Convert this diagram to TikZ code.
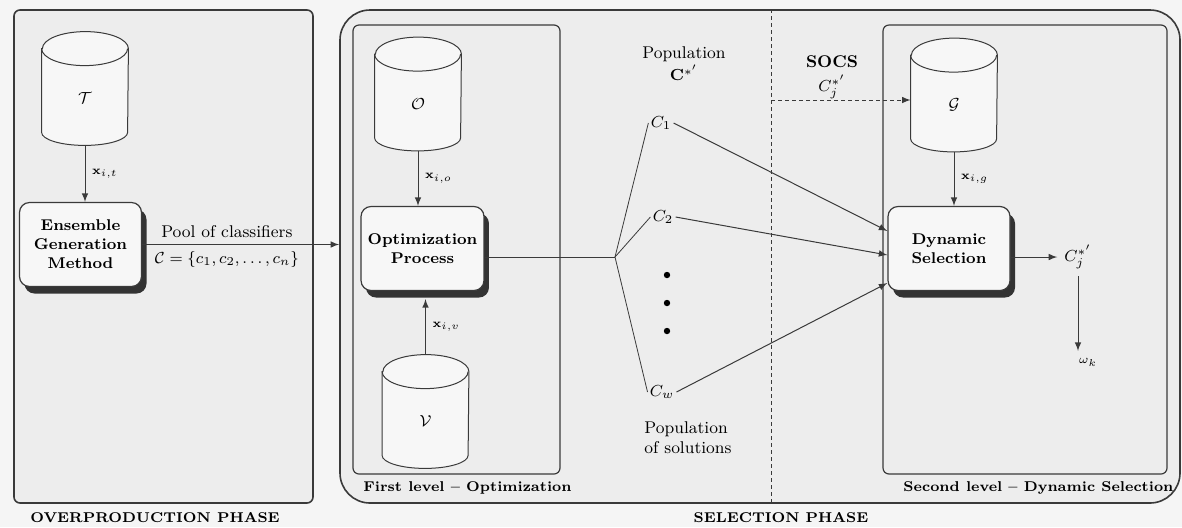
\documentclass[tikz,border=0pt]{standalone}
\usepackage{xcolor}
\usepackage{tikz}
\usetikzlibrary{positioning,shadows}

\definecolor{linegray}{HTML}{3A3A3A}
\definecolor{panelfill}{HTML}{EDEDED}
\definecolor{pagefill}{HTML}{F5F5F5}

\tikzset{
  phasebox/.style={draw=linegray, line width=0.8pt, fill=panelfill, rounded corners=3pt},
  levelbox/.style={draw=linegray, line width=0.6pt, rounded corners=3pt},
  dbnode/.style={minimum width=43pt, minimum height=56.5pt, inner sep=0pt},
  dbline/.style={draw=linegray, line width=0.5pt, fill=white!55!panelfill},
  procbox/.style={draw=linegray, line width=0.6pt, fill=white!55!panelfill, rounded corners=5pt,
    align=center, font=\fontsize{7.8}{9.5}\selectfont\bfseries, minimum width=61pt, minimum height=42pt,
    drop shadow={shadow xshift=2.5pt, shadow yshift=-3.5pt, fill=black!80, opacity=1}},
  flow/.style={->, draw=linegray, line width=0.5pt},
  dashline/.style={draw=linegray, line width=0.5pt, dash pattern=on 2pt off 1.5pt},
  xlab/.style={font=\fontsize{6.5}{8}\selectfont},
  phaselbl/.style={font=\fontsize{7.1}{9}\selectfont\bfseries}
}

% data set drawn as a cylinder: name, position, label
\newcommand{\dataset}[3]{%
  \node (#1) [dbnode] at (#2) {};
  \draw[dbline] ([yshift=-8.5pt]#1.north west) -- ([yshift=6.5pt]#1.south west)
    arc[start angle=180, end angle=360, x radius=21.5pt, y radius=6.5pt]
    -- ([yshift=-8.5pt]#1.north east)
    arc[start angle=0, end angle=180, x radius=21.5pt, y radius=8.5pt] -- cycle;
  \draw[dbline, fill=none] ([yshift=-8.5pt]#1.north west)
    arc[start angle=180, end angle=360, x radius=21.5pt, y radius=8.5pt];
  \node (#1lbl) at ([yshift=-5pt]#1.center) {#3};
}

\begin{document}
\begin{tikzpicture}[x=0.5pt, y=-0.5pt, >=latex, font=\fontsize{8.5}{10}\selectfont]
  % background
  \fill[pagefill] (0,0) rectangle (1182,527);
  \useasboundingbox (0,0) rectangle (1182,527);

  % phase panels
  \node (over) [phasebox, minimum width=149.5pt, minimum height=246.5pt] at (163.5,256.5) {};
  \node (sel) [phasebox, rounded corners=15pt, minimum width=420pt, minimum height=246.5pt] at (760,256.5) {};
  \node (first) [levelbox, minimum width=103.5pt, minimum height=224.5pt] at (456.5,249.5) {};
  \node (second) [levelbox, minimum width=142pt, minimum height=224.5pt] at (1025,249.5) {};

  \node (overlbl) [phaselbl, below right=1pt and 5pt of over.south west] {OVERPRODUCTION PHASE};
  \node (sellbl) [phaselbl, below=1pt of sel, xshift=10.5pt] {SELECTION PHASE};
  \node (firstlbl) [phaselbl, below right=0pt and 2pt of first.south west] {First level -- Optimization};
  \node (secondlbl) [phaselbl, below right=0pt and 7pt of second.south west] {Second level -- Dynamic Selection};

  % divider between the two levels
  \coordinate (split) at (771,100);
  \draw[dashline] (sel.north -| split) -- (sel.south -| split);

  % overproduction
  \dataset{tset}{85,88.5}{$\mathcal{T}$}
  \node (egm) [procbox] at (80.5,244.5) {Ensemble\\Generation\\Method};

  % first level
  \dataset{oset}{418,94}{$\mathcal{O}$}
  \node (op) [procbox] at (422.5,248.5) {Optimization\\Process};
  \dataset{vset}{425.5,411.5}{$\mathcal{V}$}

  % population of solutions
  \coordinate (fan) at (615,257);
  \node (poptop) [align=center] at (684,64) {Population\\[1pt]$\mathbf{C}^{*'}$};
  \node (c1) [inner sep=1pt] at (661,123) {$C_1$};
  \node (c2) [inner sep=1pt] at (663,217) {$C_2$};
  \node (cw) [inner sep=1pt] at (662,392) {$C_w$};
  \node (popsol) [align=left] at (688,438) {Population\\of solutions};
  \foreach \y in {275,303,331}
    \fill (667,\y) circle (1.6pt);

  % second level
  \node (socs) [align=center] at (832,77) {\textbf{SOCS}\\[2pt]$C_j^{*'}$};
  \dataset{gset}{954,95}{$\mathcal{G}$}
  \node (ds) [procbox] at (949,248.5) {Dynamic\\Selection};
  \node (cj) at (1078,257) {$C_j^{*'}$};
  \node (wk) [xlab] at (1088,362) {$\omega_k$};

  % arrows
  \draw[flow] (tset.south) -- node[right, xlab] {$\mathbf{x}_{i,t}$} (tset.south |- egm.north);
  \draw[flow] (egm.east) -- node[above, pos=0.43] {Pool of classifiers}
    node[below, pos=0.43] {$\mathcal{C}=\{c_1,c_2,\ldots,c_n\}$} (egm.east -| sel.west);
  \draw[flow] (oset.south) -- node[right, xlab] {$\mathbf{x}_{i,o}$} (oset.south |- op.north);
  \draw[flow] (vset.north) -- node[right, xlab] {$\mathbf{x}_{i,v}$} ([yshift=-4pt]vset.north |- op.south);
  \draw[draw=linegray] (op.east |- fan) -- (fan);
  \draw[draw=linegray] (fan) -- (c1.west);
  \draw[draw=linegray] (fan) -- (c2.west);
  \draw[draw=linegray] (fan) -- (cw.west);
  \draw[flow] (c1.east) -- ([yshift=8.75pt]ds.west);
  \draw[flow] (c2.east) -- ([yshift=-3.25pt]ds.west);
  \draw[flow] (cw.east) -- ([yshift=-17.25pt]ds.west);
  \draw[flow, dashline] (split) -- (split -| gset.west);
  \draw[flow] (gset.south) -- node[right, xlab] {$\mathbf{x}_{i,g}$} (gset.south |- ds.north);
  \draw[flow] (ds.east |- cj) -- (cj.west);
  \draw[flow] (cj.south) -- (cj.south |- wk.north);
\end{tikzpicture}
\end{document}
